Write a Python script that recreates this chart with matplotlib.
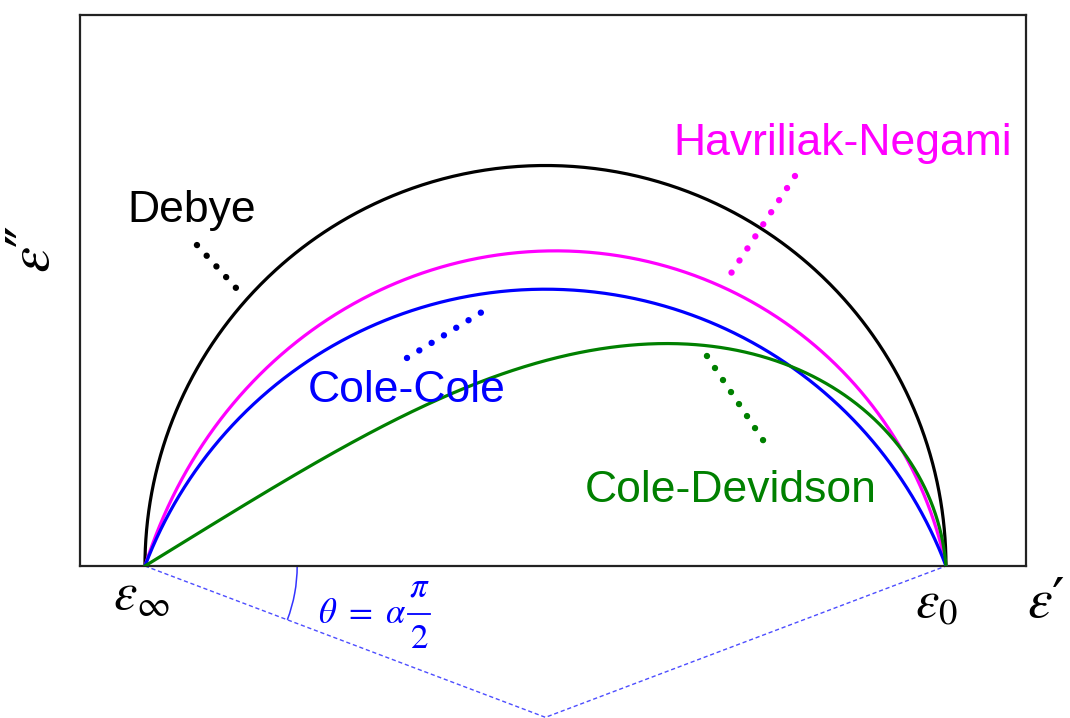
import numpy as np
import matplotlib
matplotlib.use('Agg')
import matplotlib.pyplot as plt
from matplotlib.patches import Arc

plt.rcParams['font.family'] = ['Liberation Sans', 'DejaVu Sans']
plt.rcParams['mathtext.fontset'] = 'stix'

# Relaxation parameters (normalised permittivity: eps_inf = 0, eps_s = 1)
eps_inf = 0.0
eps_s = 1.0
cc_alpha = 0.23           # Cole-Cole
cd_a = 0.95               # Cole-Davidson type (skewed) arc
cd_b = 0.37
hn_a = 0.87               # Havriliak-Negami
hn_b = 0.92

model_names = ['Debye', 'Havriliak-Negami', 'Cole-Cole', 'Cole-Devidson']
model_colors = ['black', '#ff00ff', '#0000ff', '#008000']


def havriliak_negami(wt, a, b):
    return eps_inf + (eps_s - eps_inf) / (1 + (1j * wt) ** a) ** b


wt = np.logspace(-12, 12, 6000)
curves = {
    'Debye': havriliak_negami(wt, 1.0, 1.0),
    'Havriliak-Negami': havriliak_negami(wt, hn_a, hn_b),
    'Cole-Cole': havriliak_negami(wt, 1 - cc_alpha, 1.0),
    'Cole-Devidson': havriliak_negami(wt, cd_a, cd_b),
}

fig = plt.figure(figsize=(10.7, 7.18), dpi=100)
ax = fig.add_axes([80 / 1070, 152 / 718, 946 / 1070, 551 / 718])
ax.set_xlim(-0.0811, 1.0999)
ax.set_ylim(0, 0.6879)
ax.set_xticks([])
ax.set_yticks([])
for sp in ax.spines.values():
    sp.set_linewidth(1.6)
    sp.set_color('#222222')

for name, col in zip(model_names, model_colors):
    eps = curves[name]
    ax.plot(eps.real, -eps.imag, color=col, lw=2.3, zorder=3)

# labels with dotted leaders
labels = {
    'Debye': ((-0.0225, 0.4295), [(0.0649, 0.4007), (0.1149, 0.3458)]),
    'Havriliak-Negami': ((0.6592, 0.5131), [(0.8115, 0.4869), (0.7303, 0.3633)]),
    'Cole-Cole': ((0.2035, 0.2047), [(0.3271, 0.2597), (0.4207, 0.3171)]),
    'Cole-Devidson': ((0.5493, 0.0799), [(0.7016, 0.2622), (0.7740, 0.1536)]),
}
for name, col in zip(model_names, model_colors):
    (tx, ty), seg = labels[name]
    ax.text(tx, ty, name, color=col, fontsize=32, ha='left', va='baseline', zorder=5)
    xs, ys = zip(*seg)
    ax.plot(xs, ys, color=col, lw=4.6, linestyle=(0, (0.01, 2.25)),
            dash_capstyle='round', zorder=4)

# Cole-Cole construction: circle centre below the axis
theta = cc_alpha * np.pi / 2
cx = 0.5 * (eps_inf + eps_s)
cy = -0.5 * (eps_s - eps_inf) * np.tan(theta)
ax.plot([eps_inf, cx, eps_s], [0, cy, 0], color='#4d4dff', lw=1.0,
        linestyle=(0, (3, 2)), clip_on=False, zorder=2)
r = 0.19
ax.add_patch(Arc((eps_inf, 0), 2 * r, 2 * r, theta1=-np.degrees(theta), theta2=0,
                 color='#3333ff', lw=1.1, clip_on=False))

# theta = alpha * pi/2, fraction set by hand for a roomy layout
ax.text(0.216, -0.0712, r'$\theta\ =\ \alpha$', color='#0000ff',
        fontsize=25, ha='left', va='baseline', clip_on=False)
ax.text(0.342, -0.0387, r'$\pi$', color='#0000ff', fontsize=25,
        ha='center', va='baseline', clip_on=False)
ax.text(0.342, -0.1024, r'$2$', color='#0000ff', fontsize=25,
        ha='center', va='baseline', clip_on=False)
ax.plot([0.329, 0.356], [-0.0599, -0.0599], color='#0000ff', lw=1.3, clip_on=False)

# axis end labels
ax.text(-0.04, -0.0549, r'$\varepsilon_\infty$', fontsize=38, ha='left', va='baseline', clip_on=False)
ax.text(0.9613, -0.0637, r'$\varepsilon_0$', fontsize=38, ha='left', va='baseline', clip_on=False)
ax.text(1.101, -0.0637, r'$\varepsilon$′', fontsize=40, ha='left', va='baseline',
        family=['DejaVu Sans'], clip_on=False)
fig.text(33 / 1070, 1 - 249 / 718, r'$\varepsilon$″', fontsize=42, rotation=90,
         ha='center', va='center', family=['DejaVu Sans'])

fig.savefig('out.png', dpi=100)
